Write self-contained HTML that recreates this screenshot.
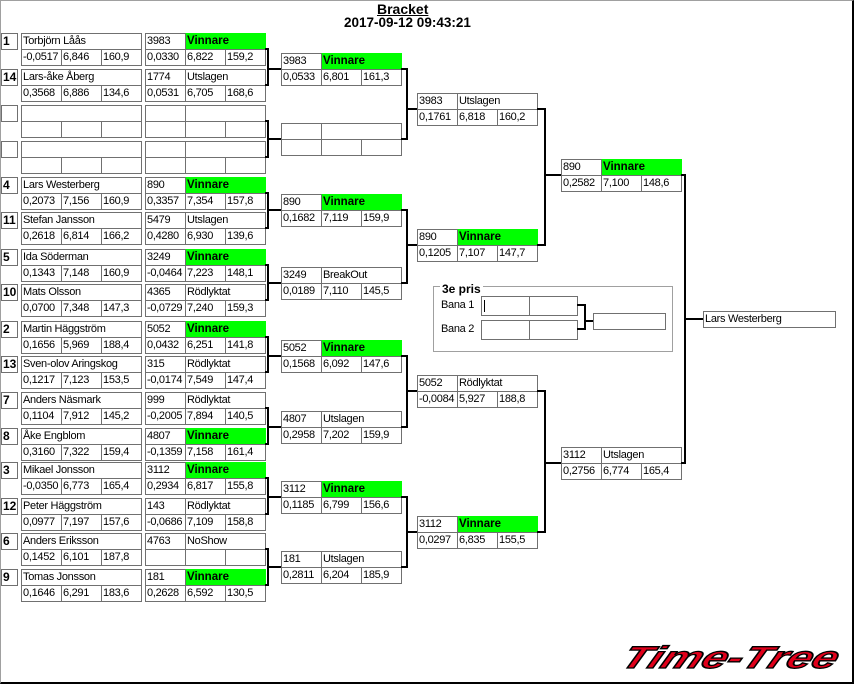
<!DOCTYPE html>
<html><head><meta charset="utf-8">
<style>
html,body{margin:0;padding:0;background:#fff}
body{width:854px;height:684px;position:relative;overflow:hidden;font-family:"Liberation Sans",Arial,sans-serif;color:#000}
.frame{position:absolute;left:0;top:0;width:854px;height:684px;box-sizing:border-box;border-left:1px solid #a0a0a0;border-top:1px solid #a0a0a0;border-right:2px solid #000;border-bottom:2px solid #000}
.e{position:absolute;width:0;height:0}
.e div{position:absolute;box-sizing:border-box;border:1px solid #707070;height:17px;line-height:15px;padding-left:1px;font-size:11px;letter-spacing:-0.3px;white-space:nowrap;overflow:hidden;background:#fff}
.e .a{left:1px;top:0;width:17px;font-weight:bold;font-size:12px;letter-spacing:0}
.e .n{left:21px;top:0;width:121px}
.e .r1{left:21px;top:16px;width:41px}
.e .r2{left:61px;top:16px;width:41px}
.e .r3{left:101px;top:16px;width:41px}
.e .k{left:0;top:0;width:41px}
.e .st{left:40px;top:0;width:81px}
.e .b1{left:0;top:16px;width:41px}
.e .b2{left:40px;top:16px;width:41px}
.e .b3{left:80px;top:16px;width:41px}
.e .g{background:#00ff00;font-weight:bold;font-size:11.5px;letter-spacing:0;border-color:#00ff00 #00ff00 #707070 #707070}
.l{position:absolute;background:#000}
.bx{position:absolute;box-sizing:border-box;border:1px solid #707070;background:#fff;font-size:11px;letter-spacing:-0.3px;line-height:15px;padding-left:1px;white-space:nowrap}
.t{position:absolute;white-space:nowrap}
</style></head><body>
<div class="frame"></div>

<div class="t" style="left:377px;top:1px;font-size:14px;line-height:17px;font-weight:bold;text-decoration:underline">Bracket</div>
<div class="t" style="left:344px;top:15px;font-size:13.5px;line-height:16px;font-weight:bold">2017-09-12 09:43:21</div>

<!-- Column 1 -->
<div class="e" style="left:0;top:33px"><div class="a">1</div><div class="n">Torbjörn Låås</div><div class="r1">-0,0517</div><div class="r2">6,846</div><div class="r3">160,9</div></div>
<div class="e" style="left:0;top:69px"><div class="a">14</div><div class="n">Lars-åke Åberg</div><div class="r1">0,3568</div><div class="r2">6,886</div><div class="r3">134,6</div></div>
<div class="e" style="left:0;top:105px"><div class="a"></div><div class="n"></div><div class="r1"></div><div class="r2"></div><div class="r3"></div></div>
<div class="e" style="left:0;top:141px"><div class="a"></div><div class="n"></div><div class="r1"></div><div class="r2"></div><div class="r3"></div></div>
<div class="e" style="left:0;top:177px"><div class="a">4</div><div class="n">Lars Westerberg</div><div class="r1">0,2073</div><div class="r2">7,156</div><div class="r3">160,9</div></div>
<div class="e" style="left:0;top:212px"><div class="a">11</div><div class="n">Stefan Jansson</div><div class="r1">0,2618</div><div class="r2">6,814</div><div class="r3">166,2</div></div>
<div class="e" style="left:0;top:249px"><div class="a">5</div><div class="n">Ida Söderman</div><div class="r1">0,1343</div><div class="r2">7,148</div><div class="r3">160,9</div></div>
<div class="e" style="left:0;top:284px"><div class="a">10</div><div class="n">Mats Olsson</div><div class="r1">0,0700</div><div class="r2">7,348</div><div class="r3">147,3</div></div>
<div class="e" style="left:0;top:321px"><div class="a">2</div><div class="n">Martin Häggström</div><div class="r1">0,1656</div><div class="r2">5,969</div><div class="r3">188,4</div></div>
<div class="e" style="left:0;top:356px"><div class="a">13</div><div class="n">Sven-olov Aringskog</div><div class="r1">0,1217</div><div class="r2">7,123</div><div class="r3">153,5</div></div>
<div class="e" style="left:0;top:392px"><div class="a">7</div><div class="n">Anders Näsmark</div><div class="r1">0,1104</div><div class="r2">7,912</div><div class="r3">145,2</div></div>
<div class="e" style="left:0;top:428px"><div class="a">8</div><div class="n">Åke Engblom</div><div class="r1">0,3160</div><div class="r2">7,322</div><div class="r3">159,4</div></div>
<div class="e" style="left:0;top:462px"><div class="a">3</div><div class="n">Mikael Jonsson</div><div class="r1">-0,0350</div><div class="r2">6,773</div><div class="r3">165,4</div></div>
<div class="e" style="left:0;top:498px"><div class="a">12</div><div class="n">Peter Häggström</div><div class="r1">0,0977</div><div class="r2">7,197</div><div class="r3">157,6</div></div>
<div class="e" style="left:0;top:533px"><div class="a">6</div><div class="n">Anders Eriksson</div><div class="r1">0,1452</div><div class="r2">6,101</div><div class="r3">187,8</div></div>
<div class="e" style="left:0;top:569px"><div class="a">9</div><div class="n">Tomas Jonsson</div><div class="r1">0,1646</div><div class="r2">6,291</div><div class="r3">183,6</div></div>

<!-- Column 2 -->
<div class="e" style="left:145px;top:33px"><div class="k">3983</div><div class="st g">Vinnare</div><div class="b1">0,0330</div><div class="b2">6,822</div><div class="b3">159,2</div></div>
<div class="e" style="left:145px;top:69px"><div class="k">1774</div><div class="st">Utslagen</div><div class="b1">0,0531</div><div class="b2">6,705</div><div class="b3">168,6</div></div>
<div class="e" style="left:145px;top:105px"><div class="k"></div><div class="st"></div><div class="b1"></div><div class="b2"></div><div class="b3"></div></div>
<div class="e" style="left:145px;top:141px"><div class="k"></div><div class="st"></div><div class="b1"></div><div class="b2"></div><div class="b3"></div></div>
<div class="e" style="left:145px;top:177px"><div class="k">890</div><div class="st g">Vinnare</div><div class="b1">0,3357</div><div class="b2">7,354</div><div class="b3">157,8</div></div>
<div class="e" style="left:145px;top:212px"><div class="k">5479</div><div class="st">Utslagen</div><div class="b1">0,4280</div><div class="b2">6,930</div><div class="b3">139,6</div></div>
<div class="e" style="left:145px;top:249px"><div class="k">3249</div><div class="st g">Vinnare</div><div class="b1">-0,0464</div><div class="b2">7,223</div><div class="b3">148,1</div></div>
<div class="e" style="left:145px;top:284px"><div class="k">4365</div><div class="st">Rödlyktat</div><div class="b1">-0,0729</div><div class="b2">7,240</div><div class="b3">159,3</div></div>
<div class="e" style="left:145px;top:321px"><div class="k">5052</div><div class="st g">Vinnare</div><div class="b1">0,0432</div><div class="b2">6,251</div><div class="b3">141,8</div></div>
<div class="e" style="left:145px;top:356px"><div class="k">315</div><div class="st">Rödlyktat</div><div class="b1">-0,0174</div><div class="b2">7,549</div><div class="b3">147,4</div></div>
<div class="e" style="left:145px;top:392px"><div class="k">999</div><div class="st">Rödlyktat</div><div class="b1">-0,2005</div><div class="b2">7,894</div><div class="b3">140,5</div></div>
<div class="e" style="left:145px;top:428px"><div class="k">4807</div><div class="st g">Vinnare</div><div class="b1">-0,1359</div><div class="b2">7,158</div><div class="b3">161,4</div></div>
<div class="e" style="left:145px;top:462px"><div class="k">3112</div><div class="st g">Vinnare</div><div class="b1">0,2934</div><div class="b2">6,817</div><div class="b3">155,8</div></div>
<div class="e" style="left:145px;top:498px"><div class="k">143</div><div class="st">Rödlyktat</div><div class="b1">-0,0686</div><div class="b2">7,109</div><div class="b3">158,8</div></div>
<div class="e" style="left:145px;top:533px"><div class="k">4763</div><div class="st">NoShow</div><div class="b1"></div><div class="b2"></div><div class="b3"></div></div>
<div class="e" style="left:145px;top:569px"><div class="k">181</div><div class="st g">Vinnare</div><div class="b1">0,2628</div><div class="b2">6,592</div><div class="b3">130,5</div></div>

<!-- Column 3 -->
<div class="e" style="left:281px;top:53px"><div class="k">3983</div><div class="st g">Vinnare</div><div class="b1">0,0533</div><div class="b2">6,801</div><div class="b3">161,3</div></div>
<div class="e" style="left:281px;top:123px"><div class="k"></div><div class="st"></div><div class="b1"></div><div class="b2"></div><div class="b3"></div></div>
<div class="e" style="left:281px;top:194px"><div class="k">890</div><div class="st g">Vinnare</div><div class="b1">0,1682</div><div class="b2">7,119</div><div class="b3">159,9</div></div>
<div class="e" style="left:281px;top:267px"><div class="k">3249</div><div class="st">BreakOut</div><div class="b1">0,0189</div><div class="b2">7,110</div><div class="b3">145,5</div></div>
<div class="e" style="left:281px;top:340px"><div class="k">5052</div><div class="st g">Vinnare</div><div class="b1">0,1568</div><div class="b2">6,092</div><div class="b3">147,6</div></div>
<div class="e" style="left:281px;top:411px"><div class="k">4807</div><div class="st">Utslagen</div><div class="b1">0,2958</div><div class="b2">7,202</div><div class="b3">159,9</div></div>
<div class="e" style="left:281px;top:481px"><div class="k">3112</div><div class="st g">Vinnare</div><div class="b1">0,1185</div><div class="b2">6,799</div><div class="b3">156,6</div></div>
<div class="e" style="left:281px;top:551px"><div class="k">181</div><div class="st">Utslagen</div><div class="b1">0,2811</div><div class="b2">6,204</div><div class="b3">185,9</div></div>

<!-- Column 4 -->
<div class="e" style="left:417px;top:93px"><div class="k">3983</div><div class="st">Utslagen</div><div class="b1">0,1761</div><div class="b2">6,818</div><div class="b3">160,2</div></div>
<div class="e" style="left:417px;top:229px"><div class="k">890</div><div class="st g">Vinnare</div><div class="b1">0,1205</div><div class="b2">7,107</div><div class="b3">147,7</div></div>
<div class="e" style="left:417px;top:375px"><div class="k">5052</div><div class="st">Rödlyktat</div><div class="b1">-0,0084</div><div class="b2">5,927</div><div class="b3">188,8</div></div>
<div class="e" style="left:417px;top:516px"><div class="k">3112</div><div class="st g">Vinnare</div><div class="b1">0,0297</div><div class="b2">6,835</div><div class="b3">155,5</div></div>

<!-- Column 5 -->
<div class="e" style="left:561px;top:159px"><div class="k">890</div><div class="st g">Vinnare</div><div class="b1">0,2582</div><div class="b2">7,100</div><div class="b3">148,6</div></div>
<div class="e" style="left:561px;top:447px"><div class="k">3112</div><div class="st">Utslagen</div><div class="b1">0,2756</div><div class="b2">6,774</div><div class="b3">165,4</div></div>

<!-- Final -->
<div class="bx" style="left:703px;top:311px;width:133px;height:17px">Lars Westerberg</div>

<!-- Connectors col2 -> col3 -->
<div class="l" style="left:265px;top:48px;width:4px;height:2px"></div><div class="l" style="left:265px;top:84px;width:4px;height:2px"></div><div class="l" style="left:267px;top:48px;width:2px;height:38px"></div><div class="l" style="left:267px;top:68px;width:14px;height:2px"></div>
<div class="l" style="left:265px;top:120px;width:4px;height:2px"></div><div class="l" style="left:265px;top:156px;width:4px;height:2px"></div><div class="l" style="left:267px;top:120px;width:2px;height:38px"></div><div class="l" style="left:267px;top:138px;width:14px;height:2px"></div>
<div class="l" style="left:265px;top:192px;width:4px;height:2px"></div><div class="l" style="left:265px;top:227px;width:4px;height:2px"></div><div class="l" style="left:267px;top:192px;width:2px;height:37px"></div><div class="l" style="left:267px;top:209px;width:14px;height:2px"></div>
<div class="l" style="left:265px;top:264px;width:4px;height:2px"></div><div class="l" style="left:265px;top:299px;width:4px;height:2px"></div><div class="l" style="left:267px;top:264px;width:2px;height:37px"></div><div class="l" style="left:267px;top:282px;width:14px;height:2px"></div>
<div class="l" style="left:265px;top:336px;width:4px;height:2px"></div><div class="l" style="left:265px;top:371px;width:4px;height:2px"></div><div class="l" style="left:267px;top:336px;width:2px;height:37px"></div><div class="l" style="left:267px;top:355px;width:14px;height:2px"></div>
<div class="l" style="left:265px;top:407px;width:4px;height:2px"></div><div class="l" style="left:265px;top:443px;width:4px;height:2px"></div><div class="l" style="left:267px;top:407px;width:2px;height:38px"></div><div class="l" style="left:267px;top:426px;width:14px;height:2px"></div>
<div class="l" style="left:265px;top:477px;width:4px;height:2px"></div><div class="l" style="left:265px;top:513px;width:4px;height:2px"></div><div class="l" style="left:267px;top:477px;width:2px;height:38px"></div><div class="l" style="left:267px;top:496px;width:14px;height:2px"></div>
<div class="l" style="left:265px;top:548px;width:4px;height:2px"></div><div class="l" style="left:265px;top:584px;width:4px;height:2px"></div><div class="l" style="left:267px;top:548px;width:2px;height:38px"></div><div class="l" style="left:267px;top:566px;width:14px;height:2px"></div>

<!-- Connectors col3 -> col4 -->
<div class="l" style="left:401px;top:68px;width:7px;height:2px"></div><div class="l" style="left:401px;top:138px;width:7px;height:2px"></div><div class="l" style="left:406px;top:68px;width:2px;height:72px"></div><div class="l" style="left:406px;top:108px;width:11px;height:2px"></div>
<div class="l" style="left:401px;top:209px;width:7px;height:2px"></div><div class="l" style="left:401px;top:282px;width:7px;height:2px"></div><div class="l" style="left:406px;top:209px;width:2px;height:75px"></div><div class="l" style="left:406px;top:244px;width:11px;height:2px"></div>
<div class="l" style="left:401px;top:355px;width:7px;height:2px"></div><div class="l" style="left:401px;top:426px;width:7px;height:2px"></div><div class="l" style="left:406px;top:355px;width:2px;height:73px"></div><div class="l" style="left:406px;top:390px;width:11px;height:2px"></div>
<div class="l" style="left:401px;top:496px;width:7px;height:2px"></div><div class="l" style="left:401px;top:566px;width:7px;height:2px"></div><div class="l" style="left:406px;top:496px;width:2px;height:72px"></div><div class="l" style="left:406px;top:531px;width:11px;height:2px"></div>

<!-- Connectors col4 -> col5 -->
<div class="l" style="left:537px;top:108px;width:9px;height:2px"></div><div class="l" style="left:537px;top:244px;width:9px;height:2px"></div><div class="l" style="left:544px;top:108px;width:2px;height:138px"></div><div class="l" style="left:544px;top:174px;width:17px;height:2px"></div>
<div class="l" style="left:537px;top:390px;width:9px;height:2px"></div><div class="l" style="left:537px;top:531px;width:9px;height:2px"></div><div class="l" style="left:544px;top:390px;width:2px;height:143px"></div><div class="l" style="left:544px;top:462px;width:17px;height:2px"></div>

<!-- Connectors col5 -> final -->
<div class="l" style="left:681px;top:174px;width:5px;height:2px"></div><div class="l" style="left:681px;top:462px;width:5px;height:2px"></div><div class="l" style="left:684px;top:174px;width:2px;height:290px"></div><div class="l" style="left:684px;top:318px;width:19px;height:2px"></div>

<!-- 3e pris -->
<div style="position:absolute;left:433px;top:286px;width:240px;height:66px;box-sizing:border-box;border:1px solid #a0a0a0"></div>
<div class="t" style="left:440px;top:282px;font-size:12px;line-height:14px;font-weight:bold;background:#fff;padding:0 2px">3e pris</div>
<div class="t" style="left:441px;top:298px;font-size:11px;line-height:15px;letter-spacing:-0.3px">Bana 1</div>
<div class="t" style="left:441px;top:322px;font-size:11px;line-height:15px;letter-spacing:-0.3px">Bana 2</div>
<div class="bx" style="left:481px;top:296px;width:49px;height:20px"></div>
<div class="bx" style="left:529px;top:296px;width:49px;height:20px"></div>
<div class="bx" style="left:481px;top:320px;width:49px;height:20px"></div>
<div class="bx" style="left:529px;top:320px;width:49px;height:20px"></div>
<div class="l" style="left:484px;top:300px;width:1px;height:12px"></div>
<div class="bx" style="left:593px;top:313px;width:73px;height:17px"></div>
<div class="l" style="left:577px;top:304px;width:9px;height:2px"></div>
<div class="l" style="left:577px;top:328px;width:9px;height:2px"></div>
<div class="l" style="left:584px;top:304px;width:2px;height:26px"></div>
<div class="l" style="left:584px;top:320px;width:9px;height:2px"></div>

<!-- Logo -->
<svg style="position:absolute;left:0;top:0" width="854" height="684" xmlns="http://www.w3.org/2000/svg">
<g transform="translate(619,668) skewX(-24)">
<text x="0" y="0" font-family="Liberation Sans, Arial, sans-serif" font-weight="bold" font-style="italic" font-size="31" textLength="215" lengthAdjust="spacingAndGlyphs" fill="#e0001a" stroke="#000" stroke-width="1.3">Time-Tree</text>
</g>
</svg>
</body></html>
